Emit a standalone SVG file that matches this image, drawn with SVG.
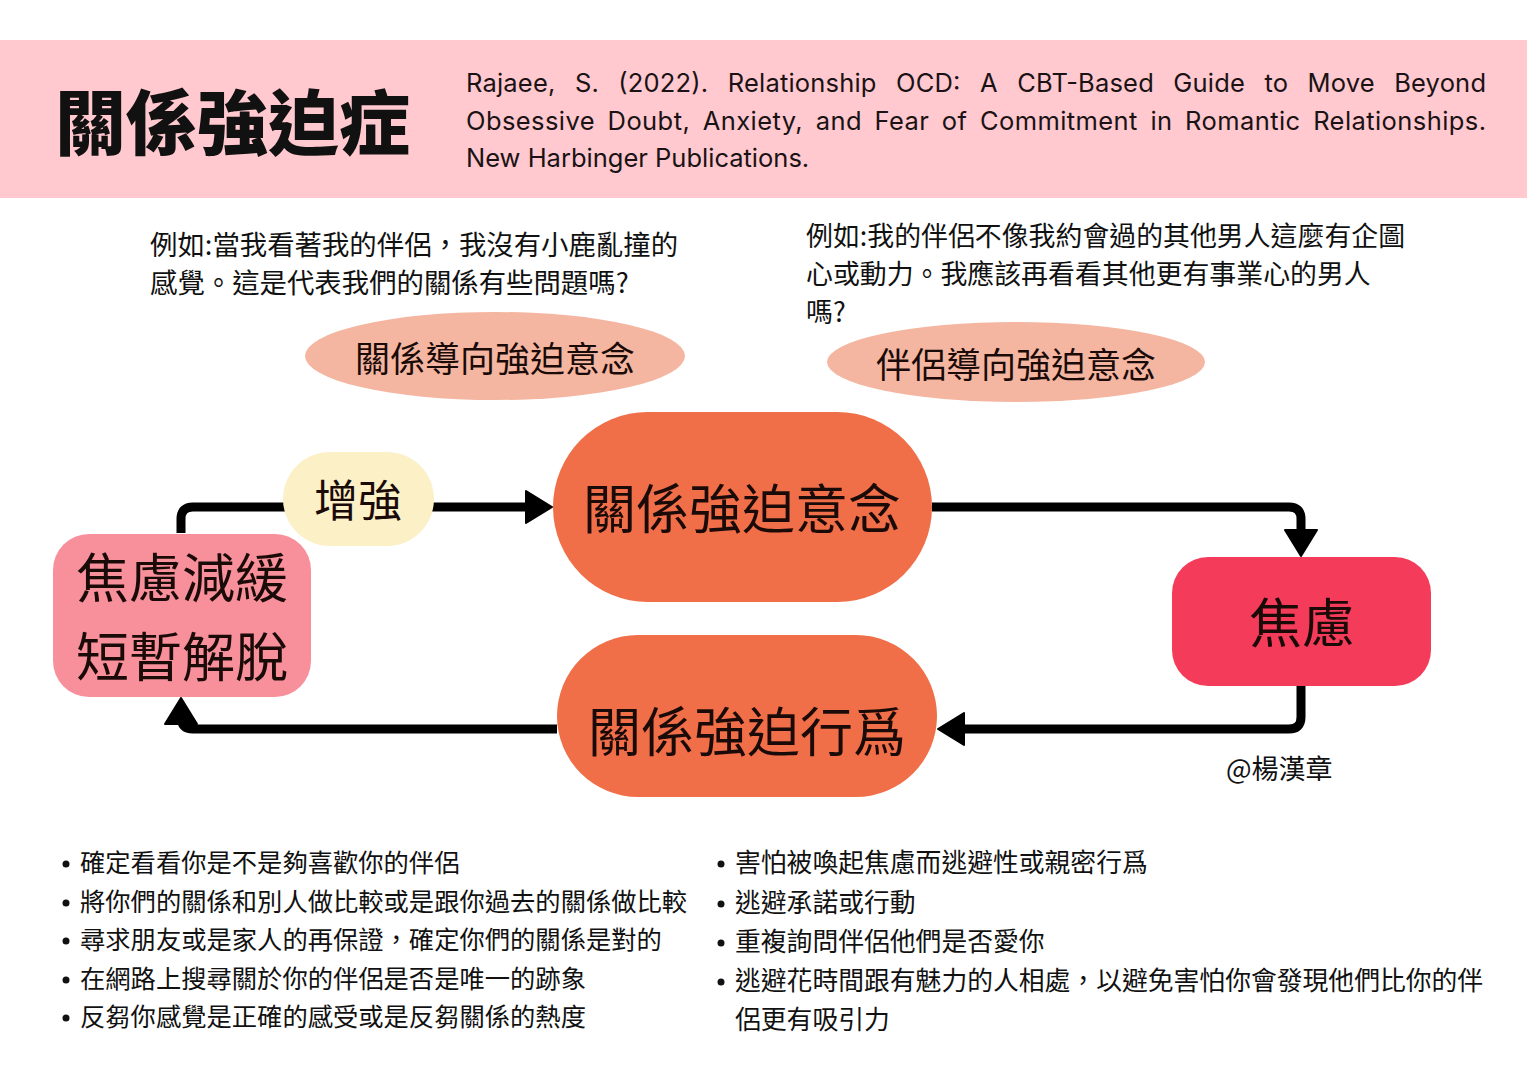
<svg xmlns="http://www.w3.org/2000/svg" width="1527" height="1080" viewBox="0 0 1527 1080">
<style>
.cjk{font-family:"Noto Sans CJK TC","Noto Sans CJK SC",sans-serif;fill:#111}
.node{font-family:"Noto Sans CJK TC","Noto Sans CJK SC",sans-serif;fill:#1a0a08;text-anchor:middle;dominant-baseline:central}
.cite{font-family:"Inter","Noto Sans",sans-serif;font-size:25.5px;fill:#1a1214}
.conn{fill:none;stroke:#000;stroke-width:9;stroke-linejoin:round;stroke-linecap:butt}
</style>
<defs>
<marker id="arr" viewBox="0 0 28 34" refX="18" refY="17" markerWidth="28" markerHeight="34" markerUnits="userSpaceOnUse" orient="auto">
<path d="M1,1 L27,17 L1,33 Z" fill="#000" stroke="#000" stroke-width="2" stroke-linejoin="round"/>
</marker>
</defs>
<rect width="1527" height="1080" fill="#fff"/>

<g id="header">
<rect x="0" y="40" width="1527" height="158" fill="#FFC9CF"/>
<text class="cjk" x="55" y="149" font-size="71" font-weight="900">關係強迫症</text>
<text class="cite" x="466" y="92" word-spacing="12" textLength="1020" lengthAdjust="spacing">Rajaee, S. (2022). Relationship OCD: A CBT-Based Guide to Move Beyond</text>
<text class="cite" x="466" y="130" word-spacing="5" textLength="1020" lengthAdjust="spacing">Obsessive Doubt, Anxiety, and Fear of Commitment in Romantic Relationships.</text>
<text class="cite" x="466" y="167">New Harbinger Publications.</text>
</g>

<g id="example1" class="cjk" font-size="27.4">
<text x="150" y="255">例如:當我看著我的伴侶，我沒有小鹿亂撞的</text>
<text x="150" y="293">感覺。這是代表我們的關係有些問題嗎?</text>
</g>
<g id="example2" class="cjk" font-size="26.9">
<text x="806" y="246">例如:我的伴侶不像我約會過的其他男人這麼有企圖</text>
<text x="806" y="284">心或動力。我應該再看看其他更有事業心的男人</text>
<text x="806" y="322">嗎?</text>
</g>

<g id="connectors">
<path class="conn" d="M181,533 V519 Q181,507 193,507 H543" marker-end="url(#arr)"/>
<path class="conn" d="M932,507 H1289 Q1301,507 1301,519 V547" marker-end="url(#arr)"/>
<path class="conn" d="M1301,686 V717 Q1301,729 1289,729 H947" marker-end="url(#arr)"/>
<path class="conn" d="M557,729 H193 Q181,729 181,717 V707" marker-end="url(#arr)"/>
</g>

<g id="relationship-focused">
<ellipse cx="495" cy="356" rx="190" ry="44" fill="#F4B6A0"/>
<text class="node" x="495" y="356" font-size="35">關係導向強迫意念</text>
</g>
<g id="partner-focused">
<ellipse cx="1016" cy="362" rx="189" ry="40" fill="#F4B6A0"/>
<text class="node" x="1016" y="362" font-size="35">伴侶導向強迫意念</text>
</g>
<g id="obsession">
<rect x="553" y="412" width="379" height="190" rx="95" fill="#F06E48"/>
<text class="node" x="742" y="506" font-size="53">關係強迫意念</text>
</g>
<g id="reinforce">
<rect x="283" y="452" width="151" height="94" rx="47" fill="#FBF0C6"/>
<text class="node" x="358" y="498" font-size="44">增強</text>
</g>
<g id="relief">
<rect x="53" y="534" width="258" height="163" rx="36" fill="#F7909B"/>
<text class="node" x="182" y="575" font-size="53">焦慮減緩</text>
<text class="node" x="182" y="654" font-size="53">短暫解脫</text>
</g>
<g id="anxiety">
<rect x="1172" y="557" width="259" height="129" rx="36" fill="#F53B5A"/>
<text class="node" x="1302" y="620" font-size="53">焦慮</text>
</g>
<g id="compulsion">
<rect x="557" y="635" width="380" height="162" rx="81" fill="#F06E48"/>
<text class="node" x="747" y="729" font-size="53">關係強迫行爲</text>
</g>

<text class="cjk" x="1226" y="779" font-size="27">@楊漢章</text>

<g id="list-left" class="cjk" font-size="25.3">
<circle cx="66" cy="864" r="3.5" fill="#111"/><text x="80" y="872">確定看看你是不是夠喜歡你的伴侶</text>
<circle cx="66" cy="903" r="3.5" fill="#111"/><text x="80" y="911">將你們的關係和別人做比較或是跟你過去的關係做比較</text>
<circle cx="66" cy="941" r="3.5" fill="#111"/><text x="80" y="949">尋求朋友或是家人的再保證，確定你們的關係是對的</text>
<circle cx="66" cy="980" r="3.5" fill="#111"/><text x="80" y="988">在網路上搜尋關於你的伴侶是否是唯一的跡象</text>
<circle cx="66" cy="1018" r="3.5" fill="#111"/><text x="80" y="1026">反芻你感覺是正確的感受或是反芻關係的熱度</text>
</g>
<g id="list-right" class="cjk" font-size="25.8">
<circle cx="721" cy="864" r="3.5" fill="#111"/><text x="735" y="872">害怕被喚起焦慮而逃避性或親密行爲</text>
<circle cx="721" cy="904" r="3.5" fill="#111"/><text x="735" y="912">逃避承諾或行動</text>
<circle cx="721" cy="943" r="3.5" fill="#111"/><text x="735" y="951">重複詢問伴侶他們是否愛你</text>
<circle cx="721" cy="982" r="3.5" fill="#111"/><text x="735" y="990">逃避花時間跟有魅力的人相處，以避免害怕你會發現他們比你的伴</text>
<text x="735" y="1029">侶更有吸引力</text>
</g>
</svg>
